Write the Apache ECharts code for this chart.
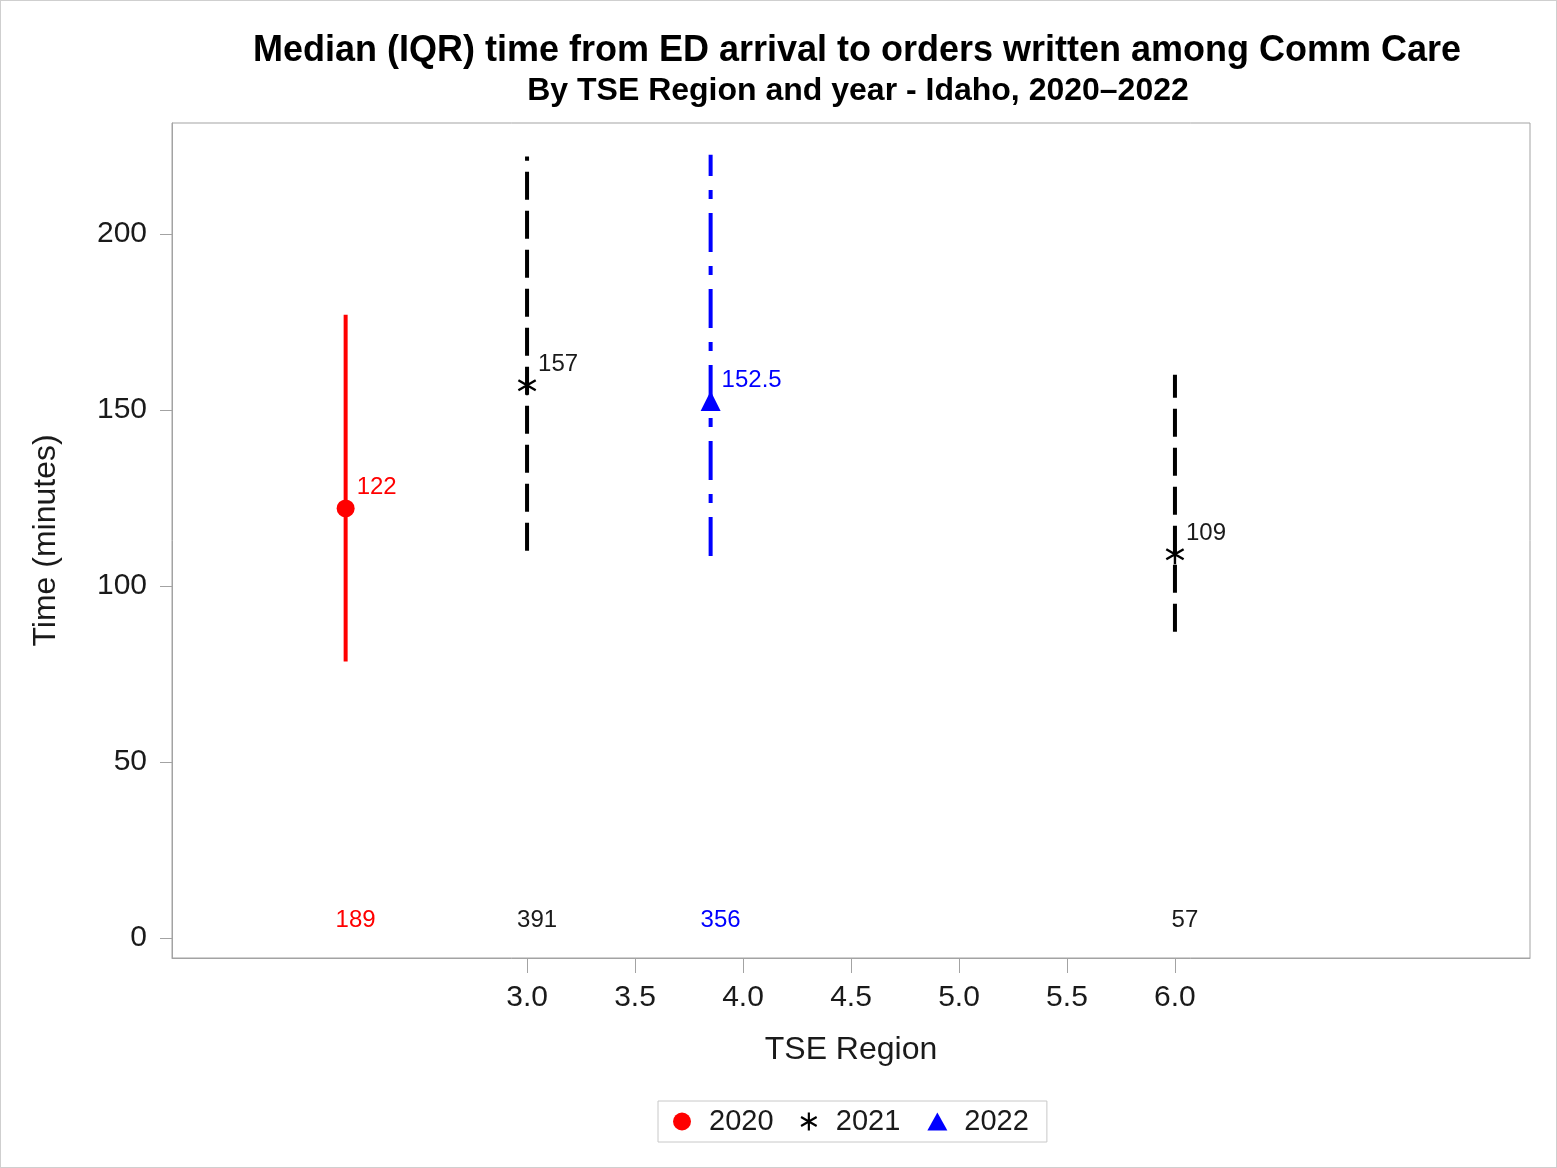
<!DOCTYPE html>
<html>
<head>
<meta charset="utf-8">
<script src="https://cdn.jsdelivr.net/npm/echarts@6/dist/echarts.min.js"></script>
<style>
  body { margin: 0; background: #fff; }
  #chart { width: 1557px; height: 1168px; box-sizing: border-box; border: 1px solid #cfcfcf; }
</style>
</head>
<body>
<div id="chart"></div>
<script>
// 数据：按年份分组
var yearNames = ['2020', '2021', '2022'];
var yearColors = ['#ff0000', '#000000', '#0000ff'];
var regionPos = [[2.16], [3.0, 6.0], [3.85]];
var medians = [[122], [157, 109], [152.5]];
var q1s = [[78.5], [110, 87], [108.5]];
var q3s = [[177], [222, 160], [222.5]];
var counts = [[189], [391, 57], [356]];
var countY = 5;
var xTicks = [3.0, 3.5, 4.0, 4.5, 5.0, 5.5, 6.0];
var yTicks = [0, 50, 100, 150, 200];

// 星号标记 (*)
var asterisk = 'path://M-6,-50L6,-50L6,50L-6,50Z' +
    'M40.3,-30.2L46.3,-19.8L-40.3,30.2L-46.3,19.8Z' +
    'M-46.3,-19.8L-40.3,-30.2L46.3,19.8L40.3,30.2Z';
var symbols = ['circle', asterisk, 'triangle'];
var symbolSizes = [18, 20, 20];
var dashes = [null, [28, 11], [39, 14, 9, 14]];

var font = 'Liberation Sans, Arial, sans-serif';
var textColor = '#1a1a1a';
var lineGrey = '#a3a3a3';

var series = [];
yearNames.forEach(function (year, k) {
    // IQR 竖线
    series.push({
        type: 'custom',
        name: 'IQR ' + year,
        silent: true,
        z: 1,
        data: regionPos[k].map(function (x, i) { return [x, q1s[k][i], q3s[k][i]]; }),
        encode: { x: 0, y: [1, 2] },
        renderItem: function (params, api) {
            var p1 = api.coord([api.value(0), api.value(1)]);
            var p2 = api.coord([api.value(0), api.value(2)]);
            return {
                type: 'line',
                shape: { x1: p1[0], y1: p1[1], x2: p2[0], y2: p2[1] },
                style: { stroke: yearColors[k], lineWidth: 4, lineDash: dashes[k] }
            };
        }
    });
    // 中位数
    series.push({
        type: 'scatter',
        name: year,
        z: 3,
        symbol: symbols[k],
        symbolSize: symbolSizes[k],
        symbolKeepAspect: true,
        itemStyle: { color: yearColors[k], opacity: 1 },
        data: regionPos[k].map(function (x, i) { return [x, medians[k][i]]; }),
        label: {
            show: true,
            position: 'inside',
            align: 'left',
            verticalAlign: 'middle',
            offset: [11, -21],
            color: yearColors[k] === '#000000' ? textColor : yearColors[k],
            fontFamily: font,
            fontSize: 24,
            formatter: function (p) { return p.value[1]; }
        }
    });
    // 样本数
    series.push({
        type: 'scatter',
        name: 'N ' + year,
        symbolSize: 0,
        silent: true,
        itemStyle: { opacity: 1 },
        data: regionPos[k].map(function (x, i) { return [x, countY, counts[k][i]]; }),
        label: {
            show: true,
            position: 'inside',
            align: 'center',
            verticalAlign: 'middle',
            offset: [10, 0],
            color: yearColors[k] === '#000000' ? textColor : yearColors[k],
            fontFamily: font,
            fontSize: 24,
            formatter: function (p) { return p.value[2]; }
        }
    });
});

var myChart = echarts.init(document.getElementById('chart'));
var option = {
    backgroundColor: '#fff',
    animation: false,
    title: [
        {
            text: 'Median (IQR) time from ED arrival to orders written among Comm Care',
            left: 851, top: 27, textAlign: 'center',
            textStyle: { fontFamily: font, fontSize: 36, fontWeight: 'bold', color: '#000' }
        },
        {
            text: 'By TSE Region and year - Idaho, 2020\u20132022',
            left: 852, top: 69, textAlign: 'center',
            textStyle: { fontFamily: font, fontSize: 32, fontWeight: 'bold', color: '#000' }
        }
    ],
    legend: {
        left: 657,
        top: 1100,
        padding: [6, 18, 6, 15],
        itemWidth: 20,
        itemHeight: 18,
        itemGap: 27,
        symbolKeepAspect: true,
        borderColor: '#c8c8c8',
        borderWidth: 1,
        textStyle: { fontFamily: font, fontSize: 29, color: textColor, padding: [0, 0, 0, 12] },
        data: yearNames.map(function (y, k) {
            return { name: y, icon: symbols[k], itemStyle: { color: yearColors[k] } };
        })
    },
    grid: {
        left: 171, right: 26, top: 122, bottom: 209,
        show: true, borderColor: lineGrey, borderWidth: 1
    },
    xAxis: {
        type: 'value',
        min: 1.356,
        max: 7.644,
        name: 'TSE Region',
        nameLocation: 'middle',
        nameGap: 76,
        nameTextStyle: { fontFamily: font, fontSize: 32, color: textColor },
        splitLine: { show: false },
        axisLine: { onZero: false, lineStyle: { color: lineGrey } },
        axisTick: { customValues: xTicks, length: 15, lineStyle: { color: lineGrey } },
        axisLabel: {
            customValues: xTicks, margin: 25,
            fontFamily: font, fontSize: 30, color: textColor,
            formatter: function (v) { return v.toFixed(1); }
        }
    },
    yAxis: {
        type: 'value',
        min: -5.7,
        max: 231.5,
        name: 'Time (minutes)',
        nameLocation: 'middle',
        nameGap: 110,
        nameTextStyle: { fontFamily: font, fontSize: 32, color: textColor },
        splitLine: { show: false },
        axisLine: { show: true, onZero: false, lineStyle: { color: lineGrey } },
        axisTick: { show: true, customValues: yTicks, length: 12, lineStyle: { color: lineGrey } },
        axisLabel: {
            customValues: yTicks, margin: 25,
            fontFamily: font, fontSize: 30, color: textColor
        }
    },
    series: series
};
myChart.setOption(option);
</script>
</body>
</html>
